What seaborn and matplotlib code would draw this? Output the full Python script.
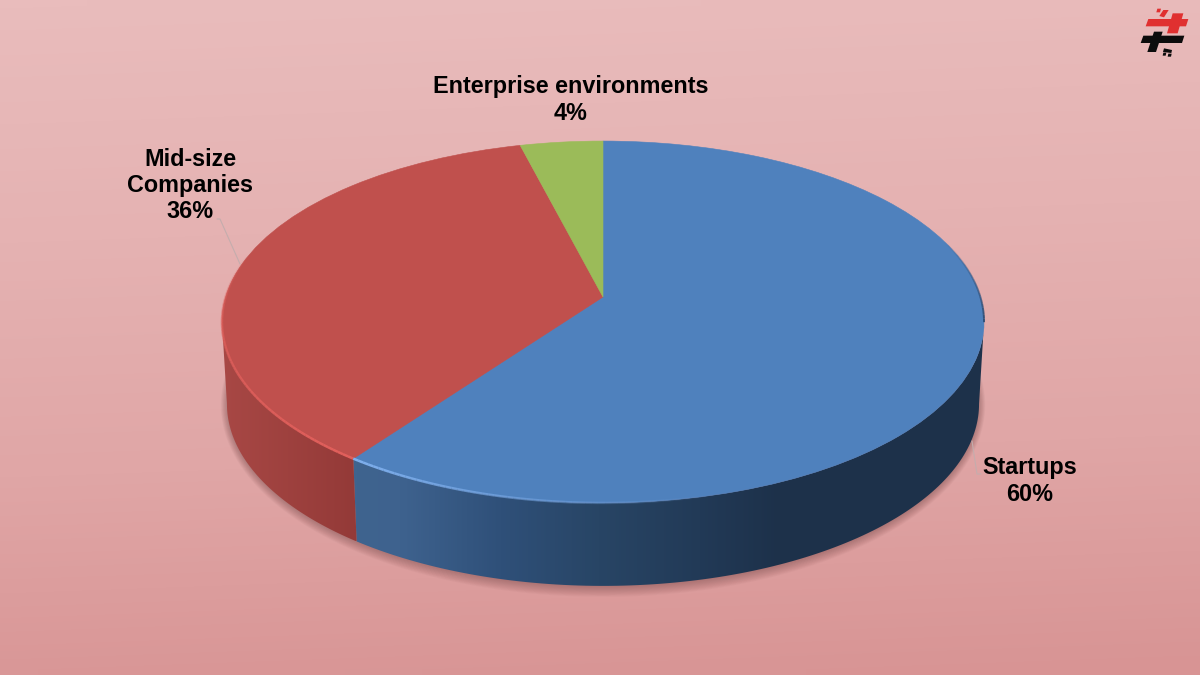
import numpy as np
import matplotlib
matplotlib.use('Agg')
import matplotlib.pyplot as plt
import seaborn as sns
from matplotlib.colors import LinearSegmentedColormap
from matplotlib.patches import Polygon
from matplotlib.transforms import Transform

# datos
categories = ['Startups', 'Enterprise environments', 'Mid-size\nCompanies']
shares = [60, 4, 36]

# order is clockwise from 12 o'clock in the picture
pie_order = [0, 2, 1]

sns.set_theme(style='white')
plt.rcParams['font.family'] = ['Liberation Sans', 'DejaVu Sans']
palette = sns.color_palette(['#4f81bd', '#9bbb59', '#c0504d'])

# pie perspective, in pixels of the 1200x675 picture
CX, CY_APEX = 603.0, 297.0
K, A, C = 377.4, -136.5, 0.138
TOP_CY, LOW_CY, LOW_SX, LOW_SY = 322.0, 404.0, 376 / 381, 182 / 181


class Perspectiva(Transform):
    input_dims = 2
    output_dims = 2
    is_affine = False

    def transform_non_affine(self, values):
        values = np.asarray(values, dtype=float)
        d = 1 + C * values[:, 1]
        return np.column_stack([CX + K * values[:, 0] / d,
                                (A * values[:, 1] + CY_APEX) / d])


proj = Perspectiva()


def rim(theta):
    t = np.radians(theta)
    return proj.transform_non_affine(np.column_stack([np.sin(t), np.cos(t)]))


def low_rim(theta):
    p = rim(theta)
    return np.column_stack([CX + (p[:, 0] - CX) * LOW_SX,
                            LOW_CY + (p[:, 1] - TOP_CY) * LOW_SY])


def fade_line(theta, color, a0, a1, lw=1.8):
    p = rim(theta)
    for a, b, f in zip(p[:-1], p[1:], np.linspace(a0, a1, len(p) - 1)):
        ax.plot([a[0], b[0]], [a[1], b[1]], color=color, lw=lw, alpha=f, zorder=6,
                solid_capstyle='butt')


fig, ax = plt.subplots(figsize=(12, 6.75), dpi=100)
fig.subplots_adjust(0, 0, 1, 1)

# the slices come from the values, then are pushed through the perspective
ordered = [shares[i] for i in pie_order]
colores = [palette[0], palette[2], palette[1]]
wedges, _ = ax.pie(ordered, colors=colores, startangle=90, counterclock=False, radius=1)
for w, col in zip(wedges, colores):
    w.set_transform(proj + ax.transData)
    w.set_edgecolor(col)
    w.set_linewidth(0.4)
    w.set_zorder(5)

# fondo
bg_stops = LinearSegmentedColormap.from_list(
    'bg', ['#e9bcbc', '#e5b2b2', '#e0a6a6', '#d89494'])
yy, xx = np.mgrid[0:1:60j, 0:1:60j]
ax.imshow(0.94 * yy + 0.06 * xx, cmap=bg_stops, extent=(0, 1200, 675, 0), aspect='auto',
          interpolation='bilinear', zorder=0, vmin=0, vmax=1)

# soft shadow under the wall
full = np.linspace(0, 360, 240)
for i in range(12):
    pts = low_rim(full)
    pts = np.column_stack([CX + (pts[:, 0] - CX) * (1 + i * 0.0015),
                           LOW_CY + 1 + (pts[:, 1] - LOW_CY) * (1 + i * 0.005)])
    ax.add_patch(Polygon(pts, closed=True, fc='#5a3030', ec='none', alpha=0.032, zorder=1))

# walls of the cake
cuts = np.cumsum([0] + ordered) * 3.6
wall_x = {0: ([354, 400, 500, 600, 700, 780, 983],
              ['#3f648f', '#3e628e', '#2f5079', '#284565', '#223a57', '#1d314a', '#1e324b']),
          1: ([221, 354], ['#a84845', '#943a38'])}
for idx, (xs, cols) in wall_x.items():
    lo, hi = max(cuts[idx], 97.9), min(cuts[idx + 1], 262.1)
    th = np.linspace(lo, hi, 120)
    pts = np.vstack([rim(th), low_rim(th)[::-1]])
    x0, x1 = pts[:, 0].min(), pts[:, 0].max()
    y0, y1 = pts[:, 1].min(), pts[:, 1].max()
    pos = [(x - xs[0]) / (xs[-1] - xs[0]) for x in xs]
    cmap = LinearSegmentedColormap.from_list('w', list(zip(pos, cols)))
    grad = ((np.linspace(x0, x1, 400) - xs[0]) / (xs[-1] - xs[0]))[None, :]
    im = ax.imshow(grad, cmap=cmap, vmin=0, vmax=1, extent=(x0, x1, y1, y0),
                   aspect='auto', zorder=3)
    clip = Polygon(pts, closed=True, transform=ax.transData, fc='none', ec='none')
    ax.add_patch(clip)
    im.set_clip_path(clip)

# bright rim on the front edge, fades out; dark one on the right side
fade_line(np.linspace(cuts[1], 262, 50), '#e2605c', 1, 0.6)
fade_line(np.linspace(262, 285, 20), '#e2605c', 0.6, 0)
fade_line(np.linspace(cuts[1], 165, 60), '#7fb0ee', 1, 0)
fade_line(np.linspace(70, 98, 25), '#2c4a70', 0, 0.9, lw=1.4)

# etiquetas
label_pos = [(1030, 481), (571, 100), (190, 185.5)]
for cat, val, (lx, ly) in zip(categories, shares, label_pos):
    ax.text(lx, ly, f'{cat}\n{val}%', ha='center', va='center', ma='center',
            fontsize=16.8, fontweight='bold', color='black', linespacing=1.17, zorder=8)

# leader lines
ax.plot([217, 220, 240], [219, 219, 264], color='#c4adad', lw=0.8, zorder=4)
ax.plot([972, 977, 981], [441, 474, 474], color='#c4adad', lw=0.8, zorder=4)


# logo, traced in the 3x zoom
def logo(pts, col):
    arr = np.array(pts, dtype=float)
    ax.add_patch(Polygon(np.column_stack([1130 + arr[:, 0] / 3, arr[:, 1] / 3]),
                         closed=True, fc=col, ec='none', zorder=9))


rojo, negro = '#e03030', '#0c0c0c'
logo([(55, 57), (175, 57), (168, 79), (47, 79)], rojo)
logo([(128, 40), (160, 40), (143, 100), (111, 100)], rojo)
logo([(82, 26), (93, 26), (90, 37), (79, 37)], rojo)
logo([(100, 30), (116, 30), (102, 52), (88, 48)], rojo)
logo([(40, 107), (163, 107), (156, 129), (32, 129)], negro)
logo([(72, 95), (98, 95), (78, 156), (52, 156)], negro)
logo([(102, 145), (126, 150), (124, 159), (99, 156)], negro)
logo([(100, 158), (109, 158), (107, 167), (98, 167)], negro)
logo([(115, 161), (125, 161), (123, 170), (113, 170)], negro)

ax.set_xlim(0, 1200)
ax.set_ylim(675, 0)
ax.set_aspect('auto')
ax.axis('off')

plt.savefig('out.png', dpi=100)
